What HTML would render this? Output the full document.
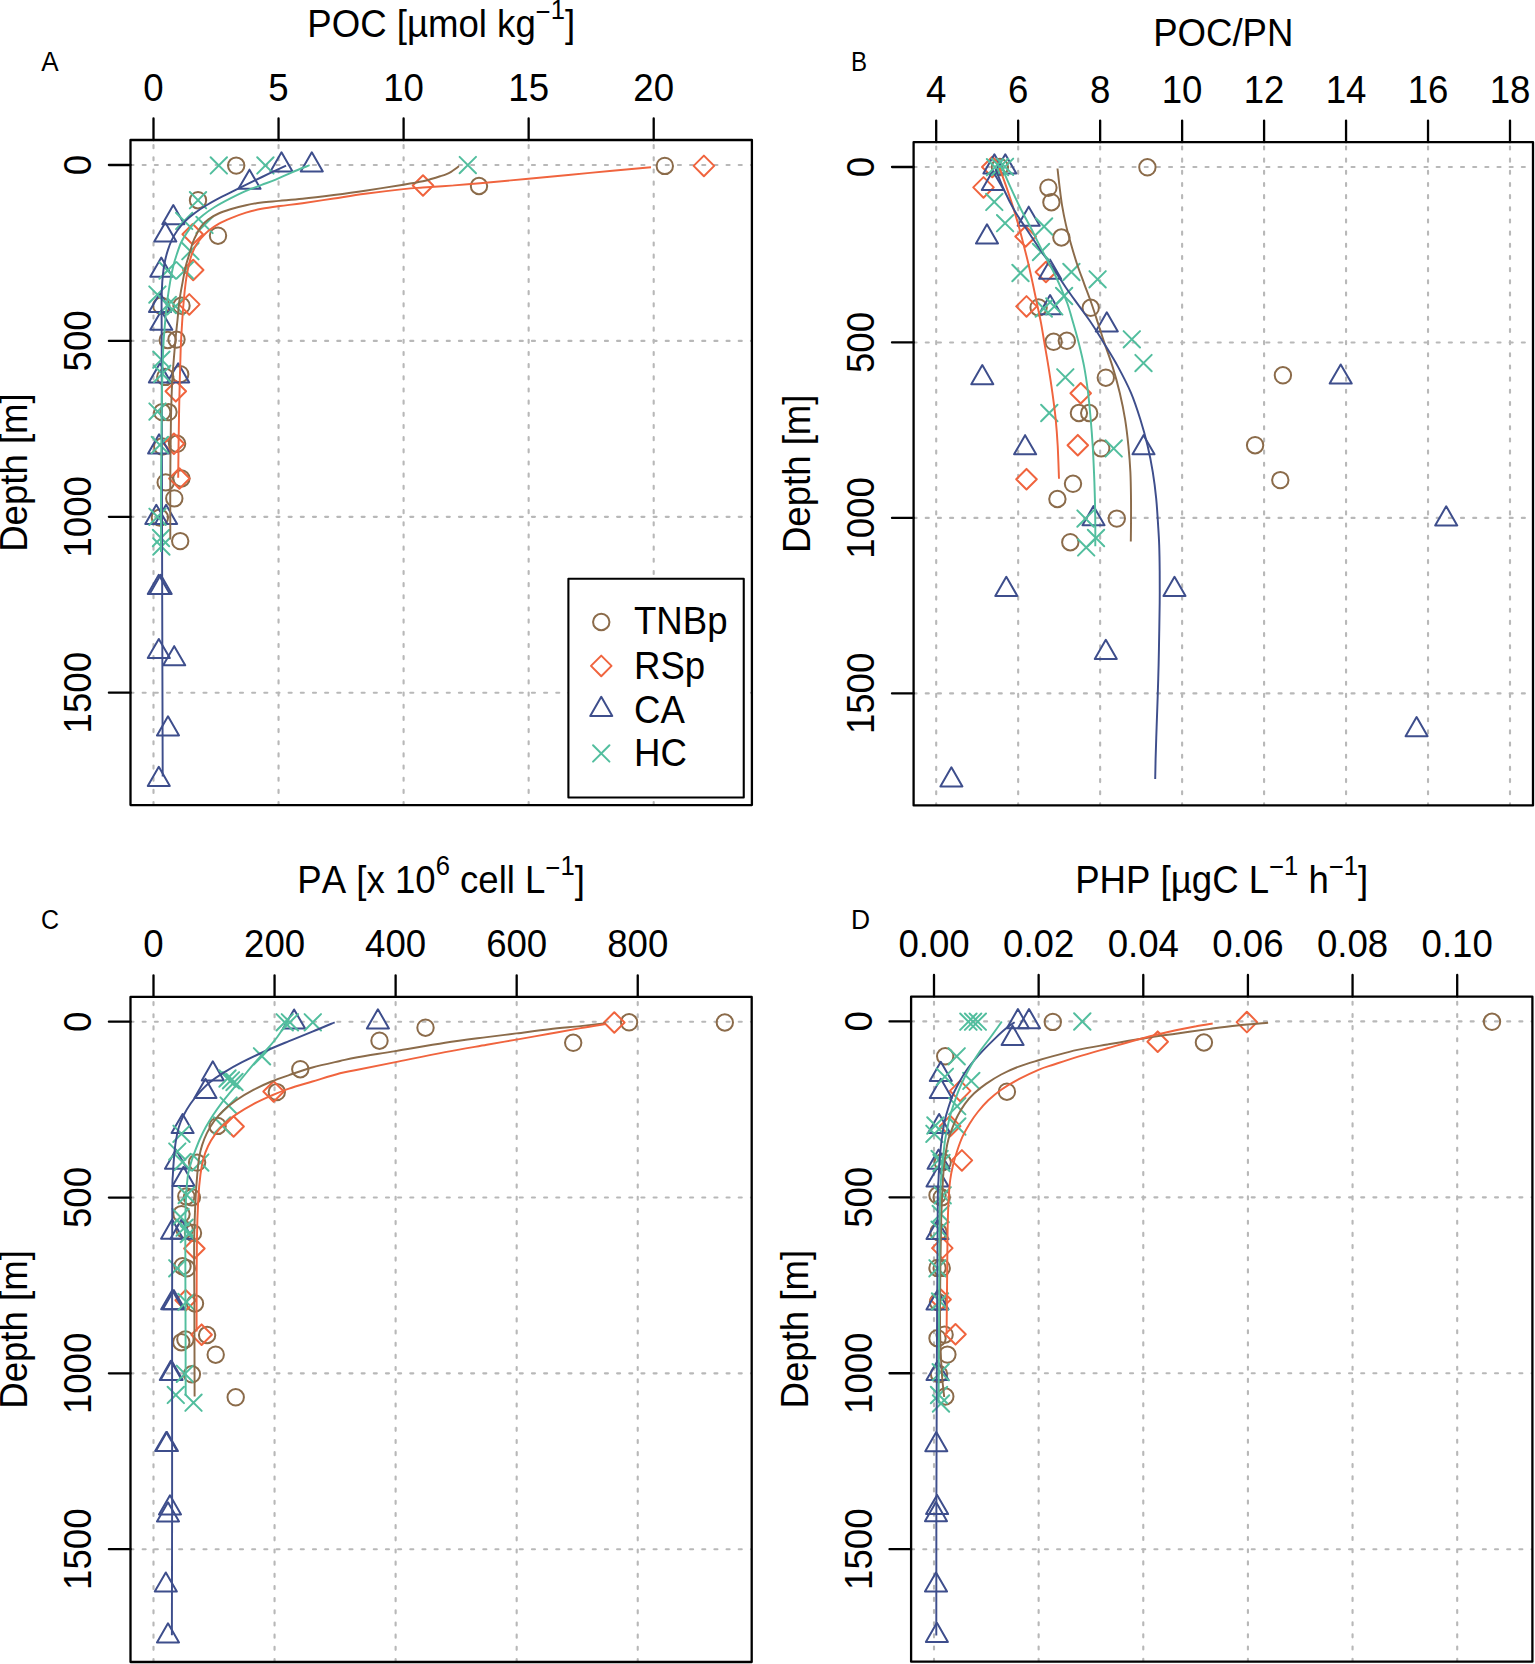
<!DOCTYPE html>
<html lang="en"><head><meta charset="utf-8"><title>Depth profiles: POC, POC/PN, PA, PHP</title>
<style>html,body{margin:0;padding:0;background:#fff}svg{display:block}text{font-family:"Liberation Sans", Arial, Helvetica, sans-serif;fill:#000;font-kerning:none}.t{font-size:36.6px}.s{font-size:25.62px}.pl{font-size:28.4px}</style></head><body>
<svg width="1535" height="1664" viewBox="0 0 1535 1664">
<rect width="1535" height="1664" fill="#fff"/>
<clipPath id="clip0"><rect x="130.5" y="140" width="621.4" height="665.1"/></clipPath>
<g clip-path="url(#clip0)" fill="none" stroke="#b8b8b8" stroke-width="2.15" stroke-dasharray="3.0 9.165" stroke-linecap="round"><path d="M153.5 805.1V140"/><path d="M278.55 805.1V140"/><path d="M403.6 805.1V140"/><path d="M528.65 805.1V140"/><path d="M653.7 805.1V140"/><path d="M130.5 165H751.9"/><path d="M130.5 340.9H751.9"/><path d="M130.5 516.8H751.9"/><path d="M130.5 692.7H751.9"/></g>
<g clip-path="url(#clip0)" fill="none" stroke-width="2" stroke-linejoin="round" stroke-linecap="round">
<g stroke="#8B6B4A"><circle cx="236.2" cy="165.6" r="8.2"/><circle cx="664.8" cy="165.9" r="8.2"/><circle cx="479" cy="186" r="8.2"/><circle cx="198" cy="200.2" r="8.2"/><circle cx="218" cy="235.7" r="8.2"/><circle cx="161.3" cy="305.7" r="8.2"/><circle cx="181.5" cy="305.7" r="8.2"/><circle cx="167.7" cy="340" r="8.2"/><circle cx="176.5" cy="339.6" r="8.2"/><circle cx="180.2" cy="374.2" r="8.2"/><circle cx="165.3" cy="376.9" r="8.2"/><circle cx="162.2" cy="412.1" r="8.2"/><circle cx="168.5" cy="412.1" r="8.2"/><circle cx="162.2" cy="446.5" r="8.2"/><circle cx="177.1" cy="443.8" r="8.2"/><circle cx="165.7" cy="482.4" r="8.2"/><circle cx="181.4" cy="478.5" r="8.2"/><circle cx="174.3" cy="498.4" r="8.2"/><circle cx="159.9" cy="517.6" r="8.2"/><circle cx="180.2" cy="541.1" r="8.2"/></g>
<g stroke="#F0643E"><path d="M693.62 165.9L703.9 155.62L714.18 165.9L703.9 176.18Z"/><path d="M412.72 185.5L423 175.22L433.28 185.5L423 195.78Z"/><path d="M182.42 234.3L192.7 224.02L202.98 234.3L192.7 244.58Z"/><path d="M182.92 270L193.2 259.72L203.48 270L193.2 280.28Z"/><path d="M179.02 304.4L189.3 294.12L199.58 304.4L189.3 314.68Z"/><path d="M165.52 391.3L175.8 381.02L186.08 391.3L175.8 401.58Z"/><path d="M163.62 443.8L173.9 433.52L184.18 443.8L173.9 454.08Z"/><path d="M169.12 478.5L179.4 468.22L189.68 478.5L179.4 488.78Z"/></g>
<g stroke="#3E4E8C"><path d="M281.5 152.25L292.54 171.38L270.46 171.38Z"/><path d="M311.8 152.25L322.84 171.38L300.76 171.38Z"/><path d="M249.5 169.65L260.54 188.78L238.46 188.78Z"/><path d="M173.3 205.05L184.34 224.18L162.26 224.18Z"/><path d="M165.3 222.45L176.34 241.58L154.26 241.58Z"/><path d="M161.3 257.55L172.34 276.68L150.26 276.68Z"/><path d="M160 292.95L171.04 312.08L148.96 312.08Z"/><path d="M161.3 310.65L172.34 329.78L150.26 329.78Z"/><path d="M159.9 363.25L170.94 382.38L148.86 382.38Z"/><path d="M178.2 363.25L189.24 382.38L167.16 382.38Z"/><path d="M159.1 434.25L170.14 453.38L148.06 453.38Z"/><path d="M156.3 504.75L167.34 523.88L145.26 523.88Z"/><path d="M166.1 504.75L177.14 523.88L155.06 523.88Z"/><path d="M158.8 574.75L169.84 593.88L147.76 593.88Z"/><path d="M160.7 574.75L171.74 593.88L149.66 593.88Z"/><path d="M158.8 638.95L169.84 658.08L147.76 658.08Z"/><path d="M174.2 646.15L185.24 665.28L163.16 665.28Z"/><path d="M168 716.25L179.04 735.38L156.96 735.38Z"/><path d="M158.8 766.85L169.84 785.98L147.76 785.98Z"/></g>
<g stroke="#52BE9E"><path d="M210.6 157.2L227 173.6M210.6 173.6L227 157.2"/><path d="M257.2 157.2L273.6 173.6M257.2 173.6L273.6 157.2"/><path d="M459.6 156.9L476 173.3M459.6 173.3L476 156.9"/><path d="M189.8 192L206.2 208.4M189.8 208.4L206.2 192"/><path d="M176 212.7L192.4 229.1M176 229.1L192.4 212.7"/><path d="M196.3 216.7L212.7 233.1M196.3 233.1L212.7 216.7"/><path d="M182.2 243L198.6 259.4M182.2 259.4L198.6 243"/><path d="M176.7 262.1L193.1 278.5M176.7 278.5L193.1 262.1"/><path d="M159.4 262.3L175.8 278.7M159.4 278.7L175.8 262.3"/><path d="M149.2 286.4L165.6 302.8M149.2 302.8L165.6 286.4"/><path d="M159.6 296.8L176 313.2M159.6 313.2L176 296.8"/><path d="M167.4 298.1L183.8 314.5M167.4 314.5L183.8 298.1"/><path d="M153.2 351.5L169.6 367.9M153.2 367.9L169.6 351.5"/><path d="M154 365.6L170.4 382M154 382L170.4 365.6"/><path d="M149.3 403.4L165.7 419.8M149.3 419.8L165.7 403.4"/><path d="M151.7 436.7L168.1 453.1M151.7 453.1L168.1 436.7"/><path d="M149.3 508.6L165.7 525M149.3 525L165.7 508.6"/><path d="M152.8 529.8L169.2 546.2M152.8 546.2L169.2 529.8"/><path d="M153.2 538.3L169.6 554.7M153.2 554.7L169.6 538.3"/></g>
<path stroke="#8B6B4A" stroke-width="1.95" stroke-linecap="butt" d="M458.9 166.1C458.33 166.55 456.8 167.83 455.5 168.8C454.2 169.77 452.68 170.98 451.1 171.9C449.52 172.82 447.83 173.57 446 174.3C444.17 175.03 442.43 175.55 440.1 176.3C437.77 177.05 434.87 177.97 432 178.8C429.13 179.63 427.67 180.32 422.9 181.3C418.13 182.28 413.03 183.13 403.4 184.7C393.77 186.27 376.7 188.98 365.1 190.7C353.5 192.42 344.23 193.65 333.8 195C323.37 196.35 311.63 197.82 302.5 198.8C293.37 199.78 285.82 200.28 279 200.9C272.18 201.52 267.1 201.78 261.6 202.5C256.1 203.22 251.2 204.07 246 205.2C240.8 206.33 234.97 207.92 230.4 209.3C225.83 210.68 222.25 211.83 218.6 213.5C214.95 215.17 211.37 217.2 208.5 219.3C205.63 221.4 203.37 223.65 201.4 226.1C199.43 228.55 198.13 231.27 196.7 234C195.27 236.73 194.03 239.12 192.8 242.5C191.57 245.88 190.47 250.38 189.3 254.3C188.13 258.22 186.9 261.45 185.8 266C184.7 270.55 183.75 275.93 182.7 281.6C181.65 287.27 180.37 293.6 179.5 300C178.63 306.4 178.18 313.23 177.5 320C176.82 326.77 176.27 330.57 175.4 340.6C174.53 350.63 173.05 366.65 172.3 380.2C171.55 393.75 171.23 405.27 170.9 421.9C170.57 438.53 170.4 460.4 170.3 480C170.2 499.6 170.3 529.58 170.3 539.5"/>
<path stroke="#F0643E" stroke-width="1.95" stroke-linecap="butt" d="M651 167.2C640.83 168.15 610.42 170.98 590 172.9C569.58 174.82 546.83 176.97 528.5 178.7C510.17 180.43 492.9 182.15 480 183.3C467.1 184.45 460.62 184.9 451.1 185.6C441.58 186.3 430.85 186.92 422.9 187.5C414.95 188.08 413.03 188.05 403.4 189.1C393.77 190.15 376.7 192.23 365.1 193.8C353.5 195.37 344.23 196.93 333.8 198.5C323.37 200.07 311.47 201.95 302.5 203.2C293.53 204.45 286.82 205.07 280 206C273.18 206.93 267.27 207.7 261.6 208.8C255.93 209.9 251.2 211.02 246 212.6C240.8 214.18 234.97 216.43 230.4 218.3C225.83 220.17 222.25 221.72 218.6 223.8C214.95 225.88 211.37 228.45 208.5 230.8C205.63 233.15 203.37 235.68 201.4 237.9C199.43 240.12 198.13 241.77 196.7 244.1C195.27 246.43 193.9 249.28 192.8 251.9C191.7 254.52 190.93 256.8 190.1 259.8C189.27 262.8 188.52 266.27 187.8 269.9C187.08 273.53 186.47 276.58 185.8 281.6C185.13 286.62 184.38 293.6 183.8 300C183.22 306.4 182.82 311.85 182.3 320C181.78 328.15 181.2 335.4 180.7 348.9C180.2 362.4 179.67 384.15 179.3 401C178.93 417.85 178.68 437.22 178.5 450C178.32 462.78 178.25 473.08 178.2 477.7"/>
<path stroke="#3E4E8C" stroke-width="1.95" stroke-linecap="butt" d="M286.1 165.6C282.08 167.5 269.98 173.17 262 177C254.02 180.83 244.78 185.37 238.2 188.6C231.62 191.83 227.72 193.67 222.5 196.4C217.28 199.13 211.45 202.27 206.9 205C202.35 207.73 198.85 210.07 195.2 212.8C191.55 215.53 188 218.4 185 221.4C182 224.4 179.42 227.67 177.2 230.8C174.98 233.93 173.27 236.93 171.7 240.2C170.13 243.47 168.9 247.02 167.8 250.4C166.7 253.78 165.82 257.25 165.1 260.5C164.38 263.75 163.97 266.38 163.5 269.9C163.03 273.42 162.62 276.58 162.3 281.6C161.98 286.62 161.7 290.52 161.6 300C161.5 309.48 161.65 313.5 161.7 338.5C161.75 363.5 161.82 406.42 161.9 450C161.98 493.58 162.07 545.57 162.2 600C162.33 654.43 162.62 747.17 162.7 776.6"/>
<path stroke="#52BE9E" stroke-width="1.95" stroke-linecap="butt" d="M309.6 165.2C306.67 166.38 297.65 169.9 292 172.3C286.35 174.7 280.77 177.5 275.7 179.6C270.63 181.7 266.55 183.02 261.6 184.9C256.65 186.78 251.2 188.65 246 190.9C240.8 193.15 235.62 195.72 230.4 198.4C225.18 201.08 219.27 204.2 214.7 207C210.13 209.8 206.52 212.4 203 215.2C199.48 218 196.33 220.8 193.6 223.8C190.87 226.8 188.68 230.08 186.6 233.2C184.52 236.32 182.73 238.98 181.1 242.5C179.47 246.02 178.1 250.38 176.8 254.3C175.5 258.22 174.4 261.45 173.3 266C172.2 270.55 171.18 275.93 170.2 281.6C169.22 287.27 168.22 293.6 167.4 300C166.58 306.4 166 311.85 165.3 320C164.6 328.15 163.78 335.4 163.2 348.9C162.62 362.4 162.15 380.82 161.8 401C161.45 421.18 161.23 444.83 161.1 470C160.97 495.17 161.02 538.33 161 552"/>
</g>
<rect x="568.4" y="578.75" width="175.35" height="218.75" fill="#fff" stroke="#000" stroke-width="2.1" stroke-linejoin="round"/>
<g fill="none" stroke-width="2" stroke-linejoin="round" stroke-linecap="round">
<g stroke="#8B6B4A"><circle cx="601.25" cy="622" r="8.2"/></g>
<g stroke="#F0643E"><path d="M590.97 665.9L601.25 655.62L611.53 665.9L601.25 676.18Z"/></g>
<g stroke="#3E4E8C"><path d="M601.25 696.75L612.29 715.88L590.21 715.88Z"/></g>
<g stroke="#52BE9E"><path d="M593.05 745.2L609.45 761.6M593.05 761.6L609.45 745.2"/></g>
</g>
<text class="t" transform="translate(634 634.2) scale(1 1.05)">TNBp</text>
<text class="t" transform="translate(634 679.1) scale(1 1.05)">RSp</text>
<text class="t" transform="translate(634 722.5) scale(1 1.05)">CA</text>
<text class="t" transform="translate(634 766.25) scale(1 1.05)">HC</text>
<path d="M130.5 140H751.9V805.1H130.5Z" fill="none" stroke="#000" stroke-width="2.3" stroke-linejoin="round"/>
<path d="M153.5 140V118.4M278.55 140V118.4M403.6 140V118.4M528.65 140V118.4M653.7 140V118.4M130.5 165H108.9M130.5 340.9H108.9M130.5 516.8H108.9M130.5 692.7H108.9" fill="none" stroke="#000" stroke-width="2.3" stroke-linecap="round"/>
<g class="t" text-anchor="middle">
<text transform="translate(153.5 101) scale(1 1.05)">0</text>
<text transform="translate(278.55 101) scale(1 1.05)">5</text>
<text transform="translate(403.6 101) scale(1 1.05)">10</text>
<text transform="translate(528.65 101) scale(1 1.05)">15</text>
<text transform="translate(653.7 101) scale(1 1.05)">20</text>
<text transform="translate(90.8 165) rotate(-90) scale(1 1.05)">0</text>
<text transform="translate(90.8 340.9) rotate(-90) scale(1 1.05)">500</text>
<text transform="translate(90.8 516.8) rotate(-90) scale(1 1.05)">1000</text>
<text transform="translate(90.8 692.7) rotate(-90) scale(1 1.05)">1500</text>
<text transform="translate(441.2 37) scale(1 1.05)">POC [µmol kg<tspan class="s" dy="-15.4">−</tspan><tspan class="s" dy="-1.75">1</tspan><tspan dy="17.15">]</tspan></text>
<text transform="translate(27 472.55) rotate(-90) scale(1 1.05)">Depth [m]</text>
</g>
<text class="pl" transform="translate(41.3 71.2) scale(0.92 1)">A</text>
<clipPath id="clip1"><rect x="913.6" y="142.2" width="619.4" height="663.2"/></clipPath>
<g clip-path="url(#clip1)" fill="none" stroke="#b8b8b8" stroke-width="2.15" stroke-dasharray="3.0 9.165" stroke-linecap="round"><path d="M936.2 806.4V142.2"/><path d="M1018.17 806.4V142.2"/><path d="M1100.14 806.4V142.2"/><path d="M1182.12 806.4V142.2"/><path d="M1264.09 806.4V142.2"/><path d="M1346.06 806.4V142.2"/><path d="M1428.03 806.4V142.2"/><path d="M1510 806.4V142.2"/><path d="M913.6 167H1533"/><path d="M913.6 342.47H1533"/><path d="M913.6 517.93H1533"/><path d="M913.6 693.4H1533"/></g>
<g clip-path="url(#clip1)" fill="none" stroke-width="2" stroke-linejoin="round" stroke-linecap="round">
<g stroke="#8B6B4A"><circle cx="1147.4" cy="167.3" r="8.2"/><circle cx="999.9" cy="167" r="8.2"/><circle cx="1048.4" cy="187.7" r="8.2"/><circle cx="1051.4" cy="202.2" r="8.2"/><circle cx="1061.4" cy="237.5" r="8.2"/><circle cx="1038.6" cy="307.4" r="8.2"/><circle cx="1090.7" cy="307.8" r="8.2"/><circle cx="1053.6" cy="341.8" r="8.2"/><circle cx="1066.8" cy="340.8" r="8.2"/><circle cx="1105.8" cy="377.7" r="8.2"/><circle cx="1282.9" cy="375.3" r="8.2"/><circle cx="1078.9" cy="413" r="8.2"/><circle cx="1089.2" cy="413" r="8.2"/><circle cx="1101.2" cy="448.4" r="8.2"/><circle cx="1255.1" cy="445.2" r="8.2"/><circle cx="1073" cy="483.8" r="8.2"/><circle cx="1280.3" cy="480.1" r="8.2"/><circle cx="1057.4" cy="499" r="8.2"/><circle cx="1116.8" cy="518.6" r="8.2"/><circle cx="1070.3" cy="542.2" r="8.2"/></g>
<g stroke="#F0643E"><path d="M982.02 167L992.3 156.72L1002.58 167L992.3 177.28Z"/><path d="M973.22 187.4L983.5 177.12L993.78 187.4L983.5 197.68Z"/><path d="M1015.32 236.5L1025.6 226.22L1035.88 236.5L1025.6 246.78Z"/><path d="M1035.62 272L1045.9 261.72L1056.18 272L1045.9 282.28Z"/><path d="M1016.22 306.4L1026.5 296.12L1036.78 306.4L1026.5 316.68Z"/><path d="M1070.42 393.3L1080.7 383.02L1090.98 393.3L1080.7 403.58Z"/><path d="M1067.52 445.2L1077.8 434.92L1088.08 445.2L1077.8 455.48Z"/><path d="M1016.22 479.2L1026.5 468.92L1036.78 479.2L1026.5 489.48Z"/></g>
<g stroke="#3E4E8C"><path d="M994.4 154.25L1005.44 173.38L983.36 173.38Z"/><path d="M1005.3 154.25L1016.34 173.38L994.26 173.38Z"/><path d="M992.8 170.95L1003.84 190.08L981.76 190.08Z"/><path d="M1028.7 206.65L1039.74 225.78L1017.66 225.78Z"/><path d="M987 224.35L998.04 243.48L975.96 243.48Z"/><path d="M1050.1 259.65L1061.14 278.78L1039.06 278.78Z"/><path d="M1050.1 295.05L1061.14 314.18L1039.06 314.18Z"/><path d="M1106.8 312.35L1117.84 331.48L1095.76 331.48Z"/><path d="M982.3 365.05L993.34 384.18L971.26 384.18Z"/><path d="M1340.7 364.45L1351.74 383.58L1329.66 383.58Z"/><path d="M1025.1 435.15L1036.14 454.28L1014.06 454.28Z"/><path d="M1143.5 435.15L1154.54 454.28L1132.46 454.28Z"/><path d="M1093.5 506.05L1104.54 525.18L1082.46 525.18Z"/><path d="M1446.2 506.25L1457.24 525.38L1435.16 525.38Z"/><path d="M1006.3 576.75L1017.34 595.88L995.26 595.88Z"/><path d="M1174.5 576.75L1185.54 595.88L1163.46 595.88Z"/><path d="M1105.8 639.85L1116.84 658.98L1094.76 658.98Z"/><path d="M1416.6 717.05L1427.64 736.18L1405.56 736.18Z"/><path d="M951.4 767.25L962.44 786.38L940.36 786.38Z"/></g>
<g stroke="#52BE9E"><path d="M986.8 159L1003.2 175.4M986.8 175.4L1003.2 159"/><path d="M991.8 158.8L1008.2 175.2M991.8 175.2L1008.2 158.8"/><path d="M996.8 158.6L1013.2 175M996.8 175L1013.2 158.6"/><path d="M986.1 193.7L1002.5 210.1M986.1 210.1L1002.5 193.7"/><path d="M996.9 215L1013.3 231.4M996.9 231.4L1013.3 215"/><path d="M1035.9 218.3L1052.3 234.7M1035.9 234.7L1052.3 218.3"/><path d="M1032.8 243.8L1049.2 260.2M1032.8 260.2L1049.2 243.8"/><path d="M1012.3 264.8L1028.7 281.2M1012.3 281.2L1028.7 264.8"/><path d="M1063.2 263.8L1079.6 280.2M1063.2 280.2L1079.6 263.8"/><path d="M1089.4 271.1L1105.8 287.5M1089.4 287.5L1105.8 271.1"/><path d="M1055.9 287.8L1072.3 304.2M1055.9 304.2L1072.3 287.8"/><path d="M1035.6 300.3L1052 316.7M1035.6 316.7L1052 300.3"/><path d="M1046.1 298.2L1062.5 314.6M1046.1 314.6L1062.5 298.2"/><path d="M1123.6 331.1L1140 347.5M1123.6 347.5L1140 331.1"/><path d="M1135.3 354.9L1151.7 371.3M1135.3 371.3L1151.7 354.9"/><path d="M1057.1 369.1L1073.5 385.5M1057.1 385.5L1073.5 369.1"/><path d="M1041.1 404.8L1057.5 421.2M1041.1 421.2L1057.5 404.8"/><path d="M1105.5 440.2L1121.9 456.6M1105.5 456.6L1121.9 440.2"/><path d="M1077.3 510.4L1093.7 526.8M1077.3 526.8L1093.7 510.4"/><path d="M1087.8 529.8L1104.2 546.2M1087.8 546.2L1104.2 529.8"/><path d="M1078 539.2L1094.4 555.6M1078 555.6L1094.4 539.2"/></g>
<path stroke="#8B6B4A" stroke-width="1.95" stroke-linecap="butt" d="M1057.5 168.5C1057.83 171.43 1058.73 179.92 1059.5 186.1C1060.27 192.28 1061.02 199.1 1062.1 205.6C1063.18 212.1 1064.48 218.58 1066 225.1C1067.52 231.62 1069.35 238.18 1071.2 244.7C1073.05 251.22 1074.93 257.68 1077.1 264.2C1079.27 270.72 1081.82 277.28 1084.2 283.8C1086.58 290.32 1089.12 296.78 1091.4 303.3C1093.68 309.82 1095.77 316.38 1097.9 322.9C1100.03 329.42 1101.77 335.15 1104.2 342.4C1106.63 349.65 1109.9 357.98 1112.5 366.4C1115.1 374.82 1117.7 384.08 1119.8 392.9C1121.9 401.72 1123.67 410.48 1125.1 419.3C1126.53 428.12 1127.52 436.98 1128.4 445.8C1129.28 454.62 1129.97 463.4 1130.4 472.2C1130.83 481 1130.9 489.78 1131 498.6C1131.1 507.42 1131.03 517.93 1131 525.1C1130.97 532.27 1130.83 538.85 1130.8 541.6"/>
<path stroke="#F0643E" stroke-width="1.95" stroke-linecap="butt" d="M999.5 167.8C1000.6 170.85 1003.92 179.8 1006.1 186.1C1008.28 192.4 1010.55 199.1 1012.6 205.6C1014.65 212.1 1016.57 218.58 1018.4 225.1C1020.23 231.62 1021.92 238.18 1023.6 244.7C1025.28 251.22 1026.97 257.68 1028.5 264.2C1030.03 270.72 1031.4 277.28 1032.8 283.8C1034.2 290.32 1035.53 296.78 1036.9 303.3C1038.27 309.82 1039.77 316.38 1041 322.9C1042.23 329.42 1043.07 335.15 1044.3 342.4C1045.53 349.65 1047.05 357.98 1048.4 366.4C1049.75 374.82 1051.18 384.08 1052.4 392.9C1053.62 401.72 1054.82 410.48 1055.7 419.3C1056.58 428.12 1057.15 435.88 1057.7 445.8C1058.25 455.72 1058.78 473.3 1059 478.8"/>
<path stroke="#3E4E8C" stroke-width="1.95" stroke-linecap="butt" d="M995.6 169.1C997.02 172.58 1001.05 183.27 1004.1 190C1007.15 196.73 1010.32 203.2 1013.9 209.5C1017.48 215.8 1021.48 221.5 1025.6 227.8C1029.72 234.1 1034.03 240.58 1038.6 247.3C1043.17 254.02 1048.43 261.37 1053 268.1C1057.57 274.83 1061.67 281.4 1066 287.7C1070.33 294 1074.65 299.82 1079 305.9C1083.35 311.98 1088.02 318.12 1092.1 324.2C1096.18 330.28 1099.22 335.37 1103.5 342.4C1107.78 349.43 1113.22 357.98 1117.8 366.4C1122.38 374.82 1127.25 384.08 1131 392.9C1134.75 401.72 1137.53 410.48 1140.3 419.3C1143.07 428.12 1145.52 436.98 1147.6 445.8C1149.68 454.62 1151.37 463.4 1152.8 472.2C1154.23 481 1155.32 489.78 1156.2 498.6C1157.08 507.42 1157.6 517.37 1158.1 525.1C1158.6 532.83 1158.93 537.3 1159.2 545C1159.47 552.7 1159.62 561.72 1159.7 571.3C1159.78 580.88 1159.78 592.09 1159.7 602.5C1159.62 612.91 1159.38 623.33 1159.2 633.75C1159.02 644.17 1158.85 654.58 1158.6 665C1158.35 675.42 1158.03 685.83 1157.7 696.25C1157.37 706.67 1156.95 717.08 1156.6 727.5C1156.25 737.92 1155.83 750.17 1155.6 758.75C1155.37 767.33 1155.27 775.62 1155.2 779"/>
<path stroke="#52BE9E" stroke-width="1.95" stroke-linecap="butt" d="M1001.5 166.5C1002.92 169.77 1006.85 179.15 1010 186.1C1013.15 193.05 1016.93 201.25 1020.4 208.2C1023.87 215.15 1027.33 221.07 1030.8 227.8C1034.27 234.53 1037.5 241.43 1041.2 248.6C1044.9 255.77 1049.73 264.28 1053 270.8C1056.27 277.32 1058.42 282.28 1060.8 287.7C1063.18 293.12 1065.23 297.43 1067.3 303.3C1069.37 309.17 1071.32 316.38 1073.2 322.9C1075.08 329.42 1076.78 335.15 1078.6 342.4C1080.42 349.65 1082.52 357.98 1084.1 366.4C1085.68 374.82 1087 384.08 1088.1 392.9C1089.2 401.72 1089.93 410.48 1090.7 419.3C1091.47 428.12 1092.15 436.98 1092.7 445.8C1093.25 454.62 1093.63 463.4 1094 472.2C1094.37 481 1094.68 489.78 1094.9 498.6C1095.12 507.42 1095.23 517.17 1095.3 525.1C1095.37 533.03 1095.3 542.68 1095.3 546.2"/>
</g>
<path d="M913.6 142.2H1533V805.4H913.6Z" fill="none" stroke="#000" stroke-width="2.3" stroke-linejoin="round"/>
<path d="M936.2 142.2V120.6M1018.17 142.2V120.6M1100.14 142.2V120.6M1182.12 142.2V120.6M1264.09 142.2V120.6M1346.06 142.2V120.6M1428.03 142.2V120.6M1510 142.2V120.6M913.6 167H892M913.6 342.47H892M913.6 517.93H892M913.6 693.4H892" fill="none" stroke="#000" stroke-width="2.3" stroke-linecap="round"/>
<g class="t" text-anchor="middle">
<text transform="translate(936.2 103.2) scale(1 1.05)">4</text>
<text transform="translate(1018.17 103.2) scale(1 1.05)">6</text>
<text transform="translate(1100.14 103.2) scale(1 1.05)">8</text>
<text transform="translate(1182.12 103.2) scale(1 1.05)">10</text>
<text transform="translate(1264.09 103.2) scale(1 1.05)">12</text>
<text transform="translate(1346.06 103.2) scale(1 1.05)">14</text>
<text transform="translate(1428.03 103.2) scale(1 1.05)">16</text>
<text transform="translate(1510 103.2) scale(1 1.05)">18</text>
<text transform="translate(874.3 167) rotate(-90) scale(1 1.05)">0</text>
<text transform="translate(874.3 342.47) rotate(-90) scale(1 1.05)">500</text>
<text transform="translate(874.3 517.93) rotate(-90) scale(1 1.05)">1000</text>
<text transform="translate(874.3 693.4) rotate(-90) scale(1 1.05)">1500</text>
<text transform="translate(1223.3 45.9) scale(1 1.05)">POC/PN</text>
<text transform="translate(810.3 473.8) rotate(-90) scale(1 1.05)">Depth [m]</text>
</g>
<text class="pl" transform="translate(851 71.4) scale(0.85 1)">B</text>
<clipPath id="clip2"><rect x="130.5" y="996.9" width="621.2" height="665.1"/></clipPath>
<g clip-path="url(#clip2)" fill="none" stroke="#b8b8b8" stroke-width="2.15" stroke-dasharray="3.0 9.165" stroke-linecap="round"><path d="M153.5 1662V996.9"/><path d="M274.56 1662V996.9"/><path d="M395.62 1662V996.9"/><path d="M516.68 1662V996.9"/><path d="M637.74 1662V996.9"/><path d="M130.5 1021.7H751.7"/><path d="M130.5 1197.53H751.7"/><path d="M130.5 1373.37H751.7"/><path d="M130.5 1549.2H751.7"/></g>
<g clip-path="url(#clip2)" fill="none" stroke-width="2" stroke-linejoin="round" stroke-linecap="round">
<g stroke="#8B6B4A"><circle cx="724.8" cy="1022.5" r="8.2"/><circle cx="629.1" cy="1022.3" r="8.2"/><circle cx="425.5" cy="1027.7" r="8.2"/><circle cx="573.2" cy="1042.8" r="8.2"/><circle cx="379.5" cy="1040.7" r="8.2"/><circle cx="300.3" cy="1069.2" r="8.2"/><circle cx="276.8" cy="1092.1" r="8.2"/><circle cx="217.6" cy="1125.9" r="8.2"/><circle cx="197.1" cy="1162.6" r="8.2"/><circle cx="186.3" cy="1196.4" r="8.2"/><circle cx="191.9" cy="1197.4" r="8.2"/><circle cx="181.5" cy="1214.1" r="8.2"/><circle cx="184.6" cy="1229.7" r="8.2"/><circle cx="193" cy="1232.9" r="8.2"/><circle cx="182.5" cy="1266.2" r="8.2"/><circle cx="186.7" cy="1268.3" r="8.2"/><circle cx="195" cy="1303.5" r="8.2"/><circle cx="181.3" cy="1342.2" r="8.2"/><circle cx="185.4" cy="1339.4" r="8.2"/><circle cx="207.1" cy="1335" r="8.2"/><circle cx="215.7" cy="1354.7" r="8.2"/><circle cx="191.9" cy="1374.3" r="8.2"/><circle cx="235.7" cy="1397.3" r="8.2"/></g>
<g stroke="#F0643E"><path d="M604.02 1022.5L614.3 1012.22L624.58 1022.5L614.3 1032.78Z"/><path d="M263.32 1091.5L273.6 1081.22L283.88 1091.5L273.6 1101.78Z"/><path d="M223.32 1126.5L233.6 1116.22L243.88 1126.5L233.6 1136.78Z"/><path d="M184.12 1248.5L194.4 1238.22L204.68 1248.5L194.4 1258.78Z"/><path d="M175.42 1300.3L185.7 1290.02L195.98 1300.3L185.7 1310.58Z"/><path d="M191.32 1334.7L201.6 1324.42L211.88 1334.7L201.6 1344.98Z"/></g>
<g stroke="#3E4E8C"><path d="M294.1 1009.45L305.14 1028.58L283.06 1028.58Z"/><path d="M377.9 1009.25L388.94 1028.38L366.86 1028.38Z"/><path d="M212.8 1061.25L223.84 1080.38L201.76 1080.38Z"/><path d="M205.5 1078.85L216.54 1097.98L194.46 1097.98Z"/><path d="M182.6 1113.95L193.64 1133.08L171.56 1133.08Z"/><path d="M176 1149.65L187.04 1168.78L164.96 1168.78Z"/><path d="M183.5 1166.85L194.54 1185.98L172.46 1185.98Z"/><path d="M172.1 1219.55L183.14 1238.68L161.06 1238.68Z"/><path d="M181.5 1219.55L192.54 1238.68L170.46 1238.68Z"/><path d="M173.9 1290.15L184.94 1309.28L162.86 1309.28Z"/><path d="M172.2 1290.15L183.24 1309.28L161.16 1309.28Z"/><path d="M171.6 1360.85L182.64 1379.98L160.56 1379.98Z"/><path d="M170.8 1360.85L181.84 1379.98L159.76 1379.98Z"/><path d="M166.9 1431.95L177.94 1451.08L155.86 1451.08Z"/><path d="M166.2 1431.95L177.24 1451.08L155.16 1451.08Z"/><path d="M170 1495.25L181.04 1514.38L158.96 1514.38Z"/><path d="M168 1502.25L179.04 1521.38L156.96 1521.38Z"/><path d="M165.8 1572.45L176.84 1591.58L154.76 1591.58Z"/><path d="M168 1623.25L179.04 1642.38L156.96 1642.38Z"/></g>
<g stroke="#52BE9E"><path d="M276.5 1014.1L292.9 1030.5M276.5 1030.5L292.9 1014.1"/><path d="M281.7 1014.1L298.1 1030.5M281.7 1030.5L298.1 1014.1"/><path d="M304.6 1014.1L321 1030.5M304.6 1030.5L321 1014.1"/><path d="M253.8 1048.1L270.2 1064.5M253.8 1064.5L270.2 1048.1"/><path d="M219.3 1070.3L235.7 1086.7M219.3 1086.7L235.7 1070.3"/><path d="M222.8 1072.1L239.2 1088.5M222.8 1088.5L239.2 1072.1"/><path d="M226.3 1073.8L242.7 1090.2M226.3 1090.2L242.7 1073.8"/><path d="M220.4 1097.4L236.8 1113.8M220.4 1113.8L236.8 1097.4"/><path d="M213.9 1117.3L230.3 1133.7M213.9 1133.7L230.3 1117.3"/><path d="M173.3 1125.6L189.7 1142M173.3 1142L189.7 1125.6"/><path d="M169.1 1143.4L185.5 1159.8M169.1 1159.8L185.5 1143.4"/><path d="M174.3 1153.8L190.7 1170.2M174.3 1170.2L190.7 1153.8"/><path d="M192.1 1154.4L208.5 1170.8M192.1 1170.8L208.5 1154.4"/><path d="M178.5 1186.8L194.9 1203.2M178.5 1203.2L194.9 1186.8"/><path d="M172.3 1208.8L188.7 1225.2M172.3 1225.2L188.7 1208.8"/><path d="M176.4 1219.5L192.8 1235.9M176.4 1235.9L192.8 1219.5"/><path d="M180.6 1225.8L197 1242.2M180.6 1242.2L197 1225.8"/><path d="M169.1 1260.1L185.5 1276.5M169.1 1276.5L185.5 1260.1"/><path d="M178.2 1293.7L194.6 1310.1M178.2 1310.1L194.6 1293.7"/><path d="M176.7 1365.6L193.1 1382M176.7 1382L193.1 1365.6"/><path d="M167.6 1386.7L184 1403.1M167.6 1403.1L184 1386.7"/><path d="M185.3 1394.5L201.7 1410.9M185.3 1410.9L201.7 1394.5"/></g>
<path stroke="#8B6B4A" stroke-width="1.95" stroke-linecap="butt" d="M605.6 1023.3C601.43 1023.77 589.98 1025.12 580.6 1026.1C571.22 1027.08 560 1027.98 549.3 1029.2C538.6 1030.42 526.82 1032.08 516.4 1033.4C505.98 1034.72 498.68 1035.55 486.8 1037.1C474.92 1038.65 460.32 1040.37 445.1 1042.7C429.88 1045.03 410.1 1048.67 395.5 1051.1C380.9 1053.53 366.75 1055.65 357.5 1057.3C348.25 1058.95 347.52 1059.3 340 1061C332.48 1062.7 320.9 1065.15 312.4 1067.5C303.9 1069.85 295.83 1072.77 289 1075.1C282.17 1077.43 277.27 1079.07 271.4 1081.5C265.53 1083.93 259.67 1086.57 253.8 1089.7C247.93 1092.83 241.28 1096.78 236.2 1100.3C231.12 1103.82 227.02 1107.28 223.3 1110.8C219.58 1114.32 216.63 1117.68 213.9 1121.4C211.17 1125.12 208.85 1129.18 206.9 1133.1C204.95 1137.02 203.47 1140.98 202.2 1144.9C200.93 1148.82 200.12 1151.72 199.3 1156.6C198.48 1161.48 197.92 1167.22 197.3 1174.2C196.68 1181.18 196.12 1187.53 195.6 1198.5C195.08 1209.47 194.4 1221.42 194.2 1240C194 1258.58 194.33 1283.92 194.4 1310C194.47 1336.08 194.57 1382.08 194.6 1396.5"/>
<path stroke="#F0643E" stroke-width="1.95" stroke-linecap="butt" d="M605.6 1024C601.43 1024.68 589.98 1026.47 580.6 1028.1C571.22 1029.73 560 1031.88 549.3 1033.8C538.6 1035.72 526.82 1037.77 516.4 1039.6C505.98 1041.43 498.68 1042.72 486.8 1044.8C474.92 1046.88 460.32 1049.22 445.1 1052.1C429.88 1054.98 410.1 1059.15 395.5 1062.1C380.9 1065.05 366.75 1067.93 357.5 1069.8C348.25 1071.67 347.52 1071.35 340 1073.3C332.48 1075.25 320.9 1078.95 312.4 1081.5C303.9 1084.05 295.83 1086.25 289 1088.6C282.17 1090.95 277.27 1093.07 271.4 1095.6C265.53 1098.13 259.67 1100.67 253.8 1103.8C247.93 1106.93 241.08 1111.08 236.2 1114.4C231.32 1117.72 228.02 1120.38 224.5 1123.7C220.98 1127.02 217.83 1130.58 215.1 1134.3C212.37 1138.02 210.05 1141.9 208.1 1146C206.15 1150.1 204.67 1154.2 203.4 1158.9C202.13 1163.6 201.35 1167.6 200.5 1174.2C199.65 1180.8 198.9 1187.5 198.3 1198.5C197.7 1209.5 197.18 1221.62 196.9 1240.2C196.62 1258.78 196.65 1294.77 196.6 1310C196.55 1325.23 196.6 1328 196.6 1331.6"/>
<path stroke="#3E4E8C" stroke-width="1.95" stroke-linecap="butt" d="M334.7 1022.3C330.98 1023.87 320.02 1028.57 312.4 1031.7C304.78 1034.83 296.82 1037.88 289 1041.1C281.18 1044.32 273.32 1047.48 265.5 1051C257.68 1054.52 248.93 1058.68 242.1 1062.2C235.27 1065.72 229.97 1068.68 224.5 1072.1C219.03 1075.52 213.6 1079.17 209.3 1082.7C205 1086.23 201.83 1089.78 198.7 1093.3C195.57 1096.82 193.03 1100.1 190.5 1103.8C187.97 1107.5 185.45 1111.58 183.5 1115.5C181.55 1119.42 180.08 1123 178.8 1127.3C177.52 1131.6 176.58 1136.42 175.8 1141.3C175.02 1146.18 174.58 1151.12 174.1 1156.6C173.62 1162.08 173.2 1167.8 172.9 1174.2C172.6 1180.6 172.43 1172.37 172.3 1195C172.17 1217.63 172.13 1259.17 172.1 1310C172.07 1360.83 172.13 1445.8 172.1 1500C172.07 1554.2 171.93 1612.67 171.9 1635.2"/>
<path stroke="#52BE9E" stroke-width="1.95" stroke-linecap="butt" d="M287.8 1021.3C286.05 1023.92 281.02 1032.05 277.3 1037C273.58 1041.95 269.42 1046.52 265.5 1051C261.58 1055.48 257.7 1059.4 253.8 1063.9C249.9 1068.4 246 1073.3 242.1 1078C238.2 1082.7 233.92 1087.8 230.4 1092.1C226.88 1096.4 223.93 1099.9 221 1103.8C218.07 1107.7 215.35 1111.58 212.8 1115.5C210.25 1119.42 207.85 1123.38 205.7 1127.3C203.55 1131.22 201.65 1135.1 199.9 1139C198.15 1142.9 196.67 1146.8 195.2 1150.7C193.73 1154.6 192.28 1158.48 191.1 1162.4C189.92 1166.32 188.92 1168.77 188.1 1174.2C187.28 1179.63 186.67 1186.53 186.2 1195C185.73 1203.47 185.42 1205.83 185.3 1225C185.18 1244.17 185.43 1281.55 185.5 1310C185.57 1338.45 185.67 1381.42 185.7 1395.7"/>
</g>
<path d="M130.5 996.9H751.7V1662H130.5Z" fill="none" stroke="#000" stroke-width="2.3" stroke-linejoin="round"/>
<path d="M153.5 996.9V975.3M274.56 996.9V975.3M395.62 996.9V975.3M516.68 996.9V975.3M637.74 996.9V975.3M130.5 1021.7H108.9M130.5 1197.53H108.9M130.5 1373.37H108.9M130.5 1549.2H108.9" fill="none" stroke="#000" stroke-width="2.3" stroke-linecap="round"/>
<g class="t" text-anchor="middle">
<text transform="translate(153.5 957) scale(1 1.05)">0</text>
<text transform="translate(274.56 957) scale(1 1.05)">200</text>
<text transform="translate(395.62 957) scale(1 1.05)">400</text>
<text transform="translate(516.68 957) scale(1 1.05)">600</text>
<text transform="translate(637.74 957) scale(1 1.05)">800</text>
<text transform="translate(91 1021.7) rotate(-90) scale(1 1.05)">0</text>
<text transform="translate(91 1197.53) rotate(-90) scale(1 1.05)">500</text>
<text transform="translate(91 1373.37) rotate(-90) scale(1 1.05)">1000</text>
<text transform="translate(91 1549.2) rotate(-90) scale(1 1.05)">1500</text>
<text transform="translate(441.1 893.3) scale(1 1.05)">PA [x 10<tspan class="s" dy="-17.15">6</tspan><tspan dy="17.15"> cell L</tspan><tspan class="s" dy="-15.4">−</tspan><tspan class="s" dy="-1.75">1</tspan><tspan dy="17.15">]</tspan></text>
<text transform="translate(27 1329.45) rotate(-90) scale(1 1.05)">Depth [m]</text>
</g>
<text class="pl" transform="translate(41 929.2) scale(0.88 1)">C</text>
<clipPath id="clip3"><rect x="911.1" y="996.6" width="621.3" height="665.1"/></clipPath>
<g clip-path="url(#clip3)" fill="none" stroke="#b8b8b8" stroke-width="2.15" stroke-dasharray="3.0 9.165" stroke-linecap="round"><path d="M934 1661.7V996.6"/><path d="M1038.64 1661.7V996.6"/><path d="M1143.28 1661.7V996.6"/><path d="M1247.92 1661.7V996.6"/><path d="M1352.56 1661.7V996.6"/><path d="M1457.2 1661.7V996.6"/><path d="M911.1 1021.4H1532.4"/><path d="M911.1 1197.33H1532.4"/><path d="M911.1 1373.27H1532.4"/><path d="M911.1 1549.2H1532.4"/></g>
<g clip-path="url(#clip3)" fill="none" stroke-width="2" stroke-linejoin="round" stroke-linecap="round">
<g stroke="#8B6B4A"><circle cx="1492" cy="1021.8" r="8.2"/><circle cx="1052.8" cy="1021.9" r="8.2"/><circle cx="1203.9" cy="1042.5" r="8.2"/><circle cx="945.2" cy="1056.3" r="8.2"/><circle cx="1006.9" cy="1091.7" r="8.2"/><circle cx="942.7" cy="1162" r="8.2"/><circle cx="937.5" cy="1195.3" r="8.2"/><circle cx="941.7" cy="1197.4" r="8.2"/><circle cx="938.5" cy="1232" r="8.2"/><circle cx="937.5" cy="1267.9" r="8.2"/><circle cx="941.7" cy="1267.9" r="8.2"/><circle cx="938" cy="1302" r="8.2"/><circle cx="937.5" cy="1338.2" r="8.2"/><circle cx="944.6" cy="1334.7" r="8.2"/><circle cx="947.4" cy="1354.6" r="8.2"/><circle cx="939" cy="1374" r="8.2"/><circle cx="945.3" cy="1396.5" r="8.2"/></g>
<g stroke="#F0643E"><path d="M1236.62 1022.1L1246.9 1011.82L1257.18 1022.1L1246.9 1032.38Z"/><path d="M1147.42 1041.7L1157.7 1031.42L1167.98 1041.7L1157.7 1051.98Z"/><path d="M949.92 1090.9L960.2 1080.62L970.48 1090.9L960.2 1101.18Z"/><path d="M939.92 1126.1L950.2 1115.82L960.48 1126.1L950.2 1136.38Z"/><path d="M951.62 1160.4L961.9 1150.12L972.18 1160.4L961.9 1170.68Z"/><path d="M932.02 1248.1L942.3 1237.82L952.58 1248.1L942.3 1258.38Z"/><path d="M930.32 1299.5L940.6 1289.22L950.88 1299.5L940.6 1309.78Z"/><path d="M945.22 1334.3L955.5 1324.02L965.78 1334.3L955.5 1344.58Z"/></g>
<g stroke="#3E4E8C"><path d="M1017.9 1009.05L1028.94 1028.18L1006.86 1028.18Z"/><path d="M1029 1009.05L1040.04 1028.18L1017.96 1028.18Z"/><path d="M1012.6 1025.75L1023.64 1044.88L1001.56 1044.88Z"/><path d="M940.8 1061.75L951.84 1080.88L929.76 1080.88Z"/><path d="M940.8 1078.75L951.84 1097.88L929.76 1097.88Z"/><path d="M939.1 1113.95L950.14 1133.08L928.06 1133.08Z"/><path d="M938.6 1149.55L949.64 1168.68L927.56 1168.68Z"/><path d="M937.5 1167.45L948.54 1186.58L926.46 1186.58Z"/><path d="M937.5 1219.95L948.54 1239.08L926.46 1239.08Z"/><path d="M937.5 1290.25L948.54 1309.38L926.46 1309.38Z"/><path d="M937.5 1360.95L948.54 1380.08L926.46 1380.08Z"/><path d="M936.3 1432.05L947.34 1451.18L925.26 1451.18Z"/><path d="M937.1 1494.95L948.14 1514.08L926.06 1514.08Z"/><path d="M936 1502.05L947.04 1521.18L924.96 1521.18Z"/><path d="M936 1572.45L947.04 1591.58L924.96 1591.58Z"/><path d="M936.9 1622.85L947.94 1641.98L925.86 1641.98Z"/></g>
<g stroke="#52BE9E"><path d="M960.2 1013.5L976.6 1029.9M960.2 1029.9L976.6 1013.5"/><path d="M969.6 1013.5L986 1029.9M969.6 1029.9L986 1013.5"/><path d="M964.9 1013.5L981.3 1029.9M964.9 1029.9L981.3 1013.5"/><path d="M1074.1 1013.3L1090.5 1029.7M1074.1 1029.7L1090.5 1013.3"/><path d="M948.5 1048.1L964.9 1064.5M948.5 1064.5L964.9 1048.1"/><path d="M936.7 1068.6L953.1 1085M936.7 1085L953.1 1068.6"/><path d="M963.1 1072.7L979.5 1089.1M963.1 1089.1L979.5 1072.7"/><path d="M949 1098L965.4 1114.4M949 1114.4L965.4 1098"/><path d="M927.2 1117.3L943.6 1133.7M927.2 1133.7L943.6 1117.3"/><path d="M949.1 1118.3L965.5 1134.7M949.1 1134.7L965.5 1118.3"/><path d="M926.2 1125.6L942.6 1142M926.2 1142L942.6 1125.6"/><path d="M931.4 1150.7L947.8 1167.1M931.4 1167.1L947.8 1150.7"/><path d="M933.3 1154.8L949.7 1171.2M933.3 1171.2L949.7 1154.8"/><path d="M934.5 1187.1L950.9 1203.5M934.5 1203.5L950.9 1187.1"/><path d="M932.5 1205.8L948.9 1222.2M932.5 1222.2L948.9 1205.8"/><path d="M931.4 1221.5L947.8 1237.9M931.4 1237.9L947.8 1221.5"/><path d="M929.3 1260.1L945.7 1276.5M929.3 1276.5L945.7 1260.1"/><path d="M931.8 1293.3L948.2 1309.7M931.8 1309.7L948.2 1293.3"/><path d="M932.5 1364L948.9 1380.4M932.5 1380.4L948.9 1364"/><path d="M930.8 1386.8L947.2 1403.2M930.8 1403.2L947.2 1386.8"/><path d="M932.8 1395.3L949.2 1411.7M932.8 1411.7L949.2 1395.3"/></g>
<path stroke="#8B6B4A" stroke-width="1.95" stroke-linecap="butt" d="M1268.1 1022.8C1262.97 1023.25 1246.98 1024.48 1237.3 1025.5C1227.62 1026.52 1220.25 1027.53 1210 1028.9C1199.75 1030.27 1186.98 1032.1 1175.8 1033.7C1164.62 1035.3 1154.3 1036.7 1142.9 1038.5C1131.5 1040.3 1118.32 1042.6 1107.4 1044.5C1096.48 1046.4 1086.3 1048 1077.4 1049.9C1068.5 1051.8 1060.48 1054.17 1054 1055.9C1047.52 1057.63 1044.37 1058.52 1038.5 1060.3C1032.63 1062.08 1025.02 1064.23 1018.8 1066.6C1012.58 1068.97 1006.67 1071.62 1001.2 1074.5C995.73 1077.38 990.5 1080.77 986 1083.9C981.5 1087.03 977.72 1089.98 974.2 1093.3C970.68 1096.62 967.63 1100.1 964.9 1103.8C962.17 1107.5 959.85 1111.58 957.8 1115.5C955.75 1119.42 954.15 1123.38 952.6 1127.3C951.05 1131.22 949.58 1135.1 948.5 1139C947.42 1142.9 946.88 1145.82 946.1 1150.7C945.32 1155.58 944.42 1161.75 943.8 1168.3C943.18 1174.85 942.83 1181.38 942.4 1190C941.97 1198.62 941.52 1208.33 941.2 1220C940.88 1231.67 940.7 1245 940.5 1260C940.3 1275 940.03 1296.67 940 1310C939.97 1323.33 939.98 1329.33 940.3 1340C940.62 1350.67 941.25 1364.5 941.9 1374C942.55 1383.5 943.82 1393.17 944.2 1397"/>
<path stroke="#F0643E" stroke-width="1.95" stroke-linecap="butt" d="M1212.7 1023.5C1209.97 1023.95 1202.45 1025.07 1196.3 1026.2C1190.15 1027.33 1184.7 1028.3 1175.8 1030.3C1166.9 1032.3 1154.3 1035.22 1142.9 1038.2C1131.5 1041.18 1118.32 1045.08 1107.4 1048.2C1096.48 1051.32 1086.3 1054.18 1077.4 1056.9C1068.5 1059.62 1060.48 1062.35 1054 1064.5C1047.52 1066.65 1044.37 1067.35 1038.5 1069.8C1032.63 1072.25 1025.02 1075.88 1018.8 1079.2C1012.58 1082.52 1006.28 1086.18 1001.2 1089.7C996.12 1093.22 992.2 1096.58 988.3 1100.3C984.4 1104.02 980.92 1108.1 977.8 1112C974.68 1115.9 972.15 1119.6 969.6 1123.7C967.05 1127.8 964.57 1132.1 962.5 1136.6C960.43 1141.1 958.77 1146 957.2 1150.7C955.63 1155.4 954.27 1159.92 953.1 1164.8C951.93 1169.68 950.95 1174.13 950.2 1180C949.45 1185.87 949.03 1191.67 948.6 1200C948.17 1208.33 947.83 1218.33 947.6 1230C947.37 1241.67 947.33 1256.67 947.2 1270C947.07 1283.33 946.9 1299.33 946.8 1310C946.7 1320.67 946.63 1330 946.6 1334"/>
<path stroke="#3E4E8C" stroke-width="1.95" stroke-linecap="butt" d="M1014.7 1022.3C1013.43 1023.18 1010.32 1024.97 1007.1 1027.6C1003.88 1030.23 999.32 1034.38 995.4 1038.1C991.48 1041.82 987.13 1046.18 983.6 1049.9C980.07 1053.62 977.13 1056.88 974.2 1060.4C971.27 1063.92 968.53 1067.28 966 1071C963.47 1074.72 961.15 1078.8 959 1082.7C956.85 1086.6 954.85 1090.3 953.1 1094.4C951.35 1098.5 949.87 1103 948.5 1107.3C947.13 1111.6 945.88 1115.9 944.9 1120.2C943.92 1124.5 943.28 1128.6 942.6 1133.1C941.92 1137.6 941.33 1142.32 940.8 1147.2C940.27 1152.08 939.78 1156.93 939.4 1162.4C939.02 1167.87 938.77 1173.73 938.5 1180C938.23 1186.27 938.03 1178.33 937.8 1200C937.57 1221.67 937.33 1260 937.1 1310C936.87 1360 936.53 1445.77 936.4 1500C936.27 1554.23 936.32 1612.83 936.3 1635.4"/>
<path stroke="#52BE9E" stroke-width="1.95" stroke-linecap="butt" d="M1001.8 1021.5C999.95 1024.08 994.32 1032.08 990.7 1037C987.08 1041.92 983.23 1046.52 980.1 1051C976.97 1055.48 974.43 1059.6 971.9 1063.9C969.37 1068.2 967.05 1072.5 964.9 1076.8C962.75 1081.1 960.77 1085.4 959 1089.7C957.23 1094 955.77 1098.3 954.3 1102.6C952.83 1106.9 951.37 1111.2 950.2 1115.5C949.03 1119.8 948.18 1124.1 947.3 1128.4C946.42 1132.7 945.58 1136.6 944.9 1141.3C944.22 1146 943.78 1151.12 943.2 1156.6C942.62 1162.08 941.9 1167.8 941.4 1174.2C940.9 1180.6 940.53 1184.03 940.2 1195C939.87 1205.97 939.58 1220.83 939.4 1240C939.22 1259.17 939.23 1282.75 939.1 1310C938.97 1337.25 938.68 1387.92 938.6 1403.5"/>
</g>
<path d="M911.1 996.6H1532.4V1661.7H911.1Z" fill="none" stroke="#000" stroke-width="2.3" stroke-linejoin="round"/>
<path d="M934 996.6V975M1038.64 996.6V975M1143.28 996.6V975M1247.92 996.6V975M1352.56 996.6V975M1457.2 996.6V975M911.1 1021.4H889.5M911.1 1197.33H889.5M911.1 1373.27H889.5M911.1 1549.2H889.5" fill="none" stroke="#000" stroke-width="2.3" stroke-linecap="round"/>
<g class="t" text-anchor="middle">
<text transform="translate(934 956.8) scale(1 1.05)">0.00</text>
<text transform="translate(1038.64 956.8) scale(1 1.05)">0.02</text>
<text transform="translate(1143.28 956.8) scale(1 1.05)">0.04</text>
<text transform="translate(1247.92 956.8) scale(1 1.05)">0.06</text>
<text transform="translate(1352.56 956.8) scale(1 1.05)">0.08</text>
<text transform="translate(1457.2 956.8) scale(1 1.05)">0.10</text>
<text transform="translate(872.1 1021.4) rotate(-90) scale(1 1.05)">0</text>
<text transform="translate(872.1 1197.33) rotate(-90) scale(1 1.05)">500</text>
<text transform="translate(872.1 1373.27) rotate(-90) scale(1 1.05)">1000</text>
<text transform="translate(872.1 1549.2) rotate(-90) scale(1 1.05)">1500</text>
<text transform="translate(1221.75 892.6) scale(1 1.05)">PHP [µgC L<tspan class="s" dy="-15.4">−</tspan><tspan class="s" dy="-1.75">1</tspan><tspan dy="17.15"> h</tspan><tspan class="s" dy="-15.4">−</tspan><tspan class="s" dy="-1.75">1</tspan><tspan dy="17.15">]</tspan></text>
<text transform="translate(807.6 1329.15) rotate(-90) scale(1 1.05)">Depth [m]</text>
</g>
<text class="pl" transform="translate(851 929.2) scale(0.93 1)">D</text>
</svg></body></html>
